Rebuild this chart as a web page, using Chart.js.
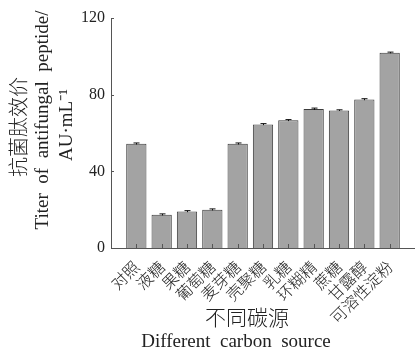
<!DOCTYPE html>
<html>
<head>
<meta charset="utf-8">
<script src="https://cdn.jsdelivr.net/npm/chart.js@4.4.1/dist/chart.umd.min.js"></script>
<style>
  html, body { margin: 0; padding: 0; background: #fff; }
  #wrap { width: 415px; height: 357px; }
</style>
</head>
<body>
<div id="wrap"><canvas id="carbonChart"></canvas></div>
<script>
// titer of antifungal peptide for each carbon source (AU/mL)
const carbonSources = ["对照", "液糖", "果糖", "葡萄糖", "麦芽糖", "壳聚糖", "乳糖", "环糊精", "蔗糖", "甘露醇", "可溶性淀粉"];
const titerValues = [54.4, 17.4, 19.1, 20.0, 54.4, 64.5, 66.6, 72.5, 71.8, 77.5, 101.9];
const titerErrors = [0.4, 0.4, 0.4, 0.4, 0.4, 0.4, 0.4, 0.5, 0.3, 0.4, 0.3];
const yTicks = [0, 40, 80, 120];

const SERIF = "'Liberation Serif', 'Noto Sans CJK SC', serif";
const CJK = "'Noto Sans CJK SC', sans-serif";

// error caps, inward tick marks and the axis titles
const axisExtras = {
    id: "axisExtras",
    afterDatasetsDraw(chart) {
        const { ctx, chartArea: { left, bottom }, scales: { x, y } } = chart;
        ctx.save();
        ctx.lineWidth = 1;
        ctx.strokeStyle = "#111";
        titerValues.forEach((v, i) => {
            const px = Math.round(x.getPixelForValue(i)) + 0.5;
            const hi = y.getPixelForValue(v + titerErrors[i]);
            const lo = y.getPixelForValue(v - titerErrors[i]);
            ctx.beginPath();
            ctx.moveTo(px, hi);
            ctx.lineTo(px, lo);
            ctx.moveTo(px - 3, hi);
            ctx.lineTo(px + 3, hi);
            ctx.stroke();
        });
        ctx.strokeStyle = "#555";
        carbonSources.forEach((_, i) => {
            const px = Math.round(x.getPixelForValue(i)) + 0.5;
            ctx.beginPath();
            ctx.moveTo(px, bottom);
            ctx.lineTo(px, bottom - 4);
            ctx.stroke();
        });
        yTicks.forEach((t) => {
            const py = Math.round(y.getPixelForValue(t)) + 0.5;
            ctx.beginPath();
            ctx.moveTo(left, py);
            ctx.lineTo(left + 3, py);
            ctx.stroke();
        });
        ctx.restore();
    },
    afterDraw(chart) {
        const ctx = chart.ctx;
        ctx.save();
        ctx.fillStyle = "#222";
        ctx.textAlign = "center";
        ctx.textBaseline = "middle";
        // x title, two lines
        ctx.font = "300 21px " + CJK;
        ctx.fillText("不同碳源", 247, 317);
        ctx.font = "19px " + SERIF;
        ctx.fillText("Different  carbon  source", 236, 342);
        // y title, three rotated lines
        const yTitle = [
            ["抗菌肽效价", "300 20px " + CJK, 18, 127],
            ["Titer  of  antifungal  peptide/", "19px " + SERIF, 43, 120],
            ["AU·mL⁻¹", "19px " + SERIF, 67, 125],
        ];
        yTitle.forEach(([text, font, cx, cy]) => {
            ctx.save();
            ctx.translate(cx, cy);
            ctx.rotate(-Math.PI / 2);
            ctx.font = font;
            ctx.fillText(text, 0, 0);
            ctx.restore();
        });
        ctx.restore();
    },
};

const data = {
    datasets: [
        {
            label: "Titer",
            data: titerValues.map((v, i) => ({ x: i, y: v })),
            backgroundColor: "#a3a3a3",
            borderColor: "#3c3c3c",
            borderWidth: 1,
            categoryPercentage: 1,
            barPercentage: 0.8,
        },
    ],
};

const config = {
    type: "bar",
    data: data,
    options: {
        responsive: true,
        maintainAspectRatio: false,
        animation: false,
        layout: {
            padding: { top: 18, right: 0, left: 0, bottom: 0 },
        },
        plugins: {
            legend: { display: false },
            tooltip: { enabled: false },
        },
        scales: {
            x: {
                type: "linear",
                min: -1,
                max: 11,
                offset: false,
                grid: { display: false, drawTicks: false, offset: false },
                border: { display: true, color: "#555", width: 1 },
                afterBuildTicks: (scale) => {
                    scale.ticks = carbonSources.map((_, i) => ({ value: i }));
                },
                afterFit: (scale) => {
                    scale.height = 109;
                },
                ticks: {
                    autoSkip: false,
                    maxRotation: 45,
                    minRotation: 45,
                    padding: 9,
                    color: "#222",
                    font: { family: CJK, size: 16, weight: "300" },
                    callback: (v) => carbonSources[v],
                },
            },
            y: {
                min: 0,
                max: 120,
                grid: { display: false, drawTicks: false },
                border: { display: true, color: "#555", width: 1 },
                afterBuildTicks: (scale) => {
                    scale.ticks = yTicks.map((t) => ({ value: t }));
                },
                afterFit: (scale) => {
                    scale.width = 111;
                },
                ticks: {
                    padding: 6,
                    color: "#222",
                    font: { family: SERIF, size: 16 },
                },
            },
        },
    },
    plugins: [axisExtras],
};

var ctx = document.getElementById("carbonChart").getContext("2d");
var carbonChart = new Chart(ctx, config);
</script>
</body>
</html>
